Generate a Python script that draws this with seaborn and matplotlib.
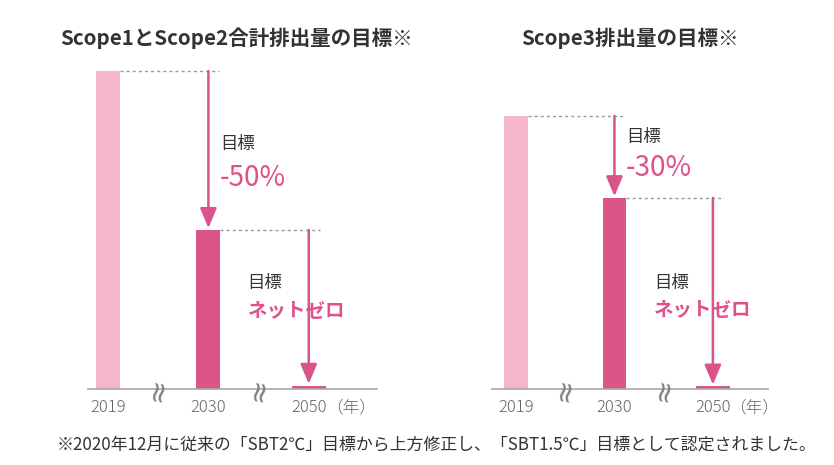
import matplotlib
matplotlib.use("Agg")
import matplotlib.pyplot as plt
import seaborn as sns
import pandas as pd

sns.set_theme(style="white")
plt.rcParams['font.family'] = ['Noto Sans CJK JP', 'DejaVu Sans']

# ---- data ----
years = ["2019", "2030", "2050"]
scope12_values = [100, 50, 1]
scope3_values = [100, 70, 1]
titles = ["Scope1とScope2合計排出量の目標※", "Scope3排出量の目標※"]
cut_labels = ["-50%", "-30%"]
target_label = "目標"
netzero_label = "ネットゼロ"
year_unit = "（年）"
footnote = "※2020年12月に従来の「SBT2℃」目標から上方修正し、「SBT1.5℃」目標として認定されました。"

LIGHT = "#F4B6CB"
DARK = "#DC5589"
ARROW = "#D9548A"
PINKTXT = "#E0508A"
GRAY_LINE = "#A8A8A8"
DASH = "#9A9A9A"
TXT = "#333333"
TICK = "#666666"

W, H = 834, 465
fig = plt.figure(figsize=(W / 100, H / 100), dpi=100)


def px_axes(x0, x1, y_base, y_top):
    return fig.add_axes([x0 / W, (H - y_base) / H, (x1 - x0) / W, (y_base - y_top) / H])


panels = [
    dict(vals=scope12_values, x0=88, x1=377, base=389, pxu=3.18, xlim=(-0.2, 2.68),
         title=titles[0], tx=236, cut=cut_labels[0],
         cut_y=(77, 66.5), nz_x=1.39, nz_y=(33.3, 24.5)),
    dict(vals=scope3_values, x0=492, x1=768, base=389, pxu=2.73, xlim=(-0.244, 2.56),
         title=titles[1], tx=630, cut=cut_labels[1],
         cut_y=(92.3, 81), nz_x=1.40, nz_y=(38.8, 28.6)),
]

YMAX = 110
for p in panels:
    ax = px_axes(p["x0"], p["x1"], p["base"], p["base"] - p["pxu"] * YMAX)
    df = pd.DataFrame({"year": years, "value": p["vals"]})
    sns.barplot(data=df, x="year", y="value", hue="year", order=years,
                palette=[LIGHT, DARK, DARK], width=0.24, legend=False,
                saturation=1, ax=ax, linewidth=0)
    # widen the net-zero marker bar
    for patch in ax.patches:
        cx = patch.get_x() + patch.get_width() / 2
        if abs(cx - 2) < 0.3:
            patch.set_width(0.34)
            patch.set_x(2 - 0.17)
    ax.set_xlim(*p["xlim"])
    ax.set_ylim(0, YMAX)
    ax.set_xlabel("")
    ax.set_ylabel("")
    ax.set_yticks([])
    for s in ["top", "right", "left"]:
        ax.spines[s].set_visible(False)
    ax.spines["bottom"].set_color(GRAY_LINE)
    ax.spines["bottom"].set_linewidth(1.2)
    ax.tick_params(axis="x", length=0, pad=7, labelsize=12, labelcolor=TICK)
    for lab in ax.get_xticklabels():
        lab.set_fontweight("light")
    ax.patch.set_alpha(0)

    v = p["vals"]
    # dashed guide lines and arrows
    for i in range(2):
        ax.plot([i + 0.12, i + 1 + 0.11], [v[i], v[i]], color=DASH, lw=1,
                linestyle=(0, (2.2, 2.2)), zorder=1)
        ax.annotate("", xy=(i + 1, v[i + 1] + 0.6), xytext=(i + 1, v[i]),
                    arrowprops=dict(arrowstyle="-|>,head_width=0.42,head_length=1.0",
                                    color=ARROW, lw=1.8, shrinkA=0, shrinkB=0),
                    zorder=3)
    # labels
    ax.text(1.12, p["cut_y"][0], target_label, fontsize=12.5, color=TXT,
            ha="left", va="center")
    ax.text(1.11, p["cut_y"][1], p["cut"], fontsize=20, color=PINKTXT,
            ha="left", va="center")
    ax.text(p["nz_x"], p["nz_y"][0], target_label, fontsize=12.5, color=TXT,
            ha="left", va="center")
    ax.text(p["nz_x"], p["nz_y"][1], netzero_label, fontsize=14, color=PINKTXT,
            ha="left", va="center", fontweight="bold")
    # axis break marks
    trans = ax.get_xaxis_transform()
    for bx in (0.5, 1.5):
        ax.text(bx, 0, "≈", rotation=80, fontsize=21, color="#808080",
                ha="center", va="center", transform=trans,
                family=["DejaVu Sans"], fontweight="normal")
    # year unit
    ax.text(2.17, -19 / (p["pxu"] * YMAX), year_unit, fontsize=12, color=TICK,
            ha="left", va="center", transform=trans, fontweight="light")
    # title
    fig.text(p["tx"] / W, 1 - 38 / H, p["title"], fontsize=14.8, color=TXT,
             fontweight="bold", ha="center", va="center")

fig.text(437 / W, 1 - 445 / H, footnote, fontsize=12.2, color=TXT,
         ha="center", va="center")

fig.savefig("out.png", dpi=100)
